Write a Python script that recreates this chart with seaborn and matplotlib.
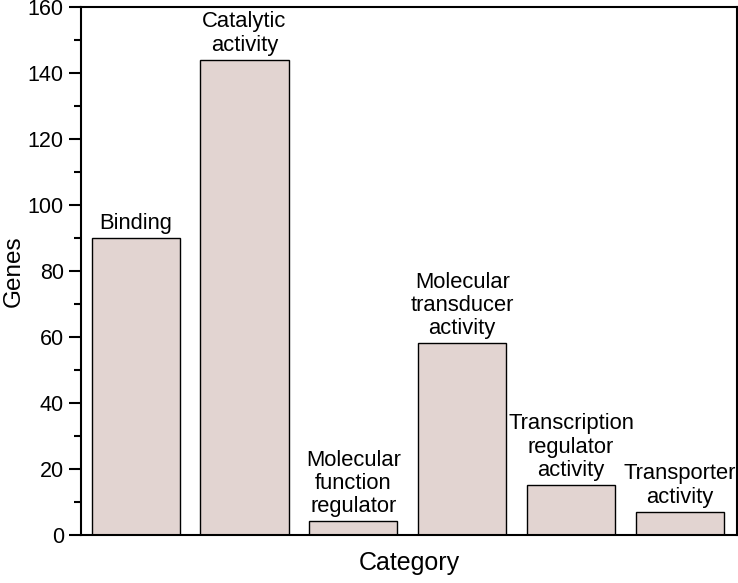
import pandas as pd
import seaborn as sns
import matplotlib.pyplot as plt
from matplotlib.ticker import MultipleLocator

categories = ["Binding", "Catalytic\nactivity", "Molecular\nfunction\nregulator",
              "Molecular\ntransducer\nactivity", "Transcription\nregulator\nactivity",
              "Transporter\nactivity"]
genes = [90, 144, 4, 58, 15, 7]

df = pd.DataFrame({"Category": categories, "Genes": genes})

sns.set_style("ticks", {"axes.edgecolor": "black", "text.color": "black",
                        "xtick.color": "black", "ytick.color": "black",
                        "axes.labelcolor": "black"})
plt.rcParams['font.family'] = ['Liberation Sans', 'DejaVu Sans']

fig, ax = plt.subplots(figsize=(7.38, 5.83), dpi=100)
sns.barplot(data=df, x="Category", y="Genes", color="#e2d4d1", saturation=1,
            edgecolor="black", linewidth=1, width=0.81, ax=ax)

for i, (lab, v) in enumerate(zip(categories, genes)):
    ax.text(i, v + 1.2, lab, ha="center", va="bottom", fontsize=15.8, linespacing=1.15)

ax.set_xlim(-0.5, 5.52)
ax.set_ylim(0, 160)
ax.yaxis.set_major_locator(MultipleLocator(20))
ax.yaxis.set_minor_locator(MultipleLocator(10))
ax.set_xticks([])
ax.tick_params(axis="y", which="major", length=9, width=1.5, labelsize=15.5, direction="out")
ax.tick_params(axis="y", which="minor", length=5, width=1.5, direction="out")
for s in ax.spines.values():
    s.set_visible(True)
    s.set_linewidth(1.5)
ax.set_xlabel("Category", fontsize=18, labelpad=12)
ax.set_ylabel("Genes", fontsize=17.5, labelpad=2)

plt.subplots_adjust(left=0.11, right=0.998, top=0.988, bottom=0.083)
plt.savefig("out.png", dpi=100)
